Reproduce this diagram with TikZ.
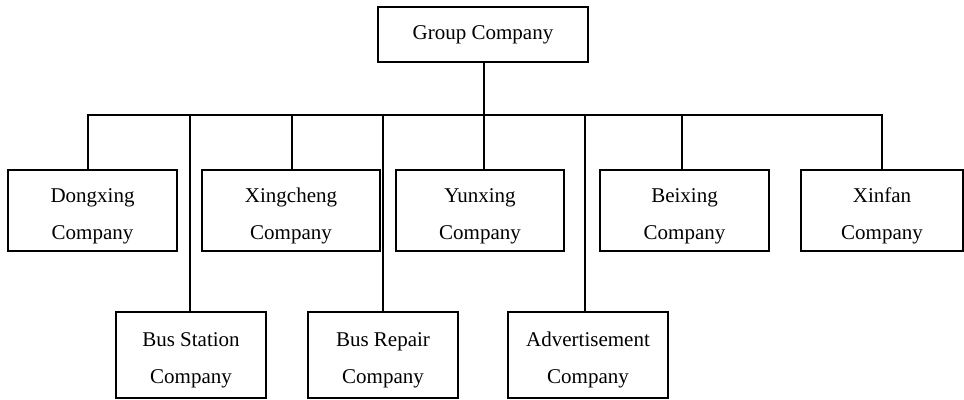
\documentclass[tikz,border=0pt]{standalone}
\usepackage{fontspec}
\setmainfont{Liberation Serif}
% taller first line pushes two-line labels slightly downward in their boxes
\newcommand{\tallfirst}{\rule{0pt}{12.5pt}}
\begin{document}
\begin{tikzpicture}[x=0.5pt,y=-0.5pt,
  box/.style={draw, line width=0.9pt, inner sep=0pt, align=center,
    font=\fontsize{10.5pt}{18.5pt}\selectfont, minimum height=40.5pt},
  low/.style={minimum height=43pt},
  link/.style={line width=0.9pt}]
\useasboundingbox (0,0) rectangle (964,400);

% parent
\node[box, minimum width=105pt, minimum height=27.5pt] (group) at (483,34.5) {Group Company};

% first row of subsidiaries
\node[box, minimum width=84.5pt] (dong) at (92.5,210.5) {\tallfirst Dongxing\\Company};
\node[box, minimum width=89pt]   (xing) at (291,210.5)  {\tallfirst Xingcheng\\Company};
\node[box, minimum width=84pt]   (yun)  at (480,210.5)  {\tallfirst Yunxing\\Company};
\node[box, minimum width=84.5pt] (bei)  at (684.5,210.5) {\tallfirst Beixing\\Company};
\node[box, minimum width=81pt]   (xin)  at (882,210.5)  {\tallfirst Xinfan\\Company};

% second row of subsidiaries
\node[box, low, minimum width=75pt] (station) at (191,355) {\tallfirst Bus Station\\Company};
\node[box, low, minimum width=75pt] (repair)  at (383,355) {\tallfirst Bus Repair\\Company};
\node[box, low, minimum width=80pt] (advert)  at (588,355) {\tallfirst Advertisement\\Company};

% distribution bus
\coordinate (b1) at (88,115);
\coordinate (b2) at (190,115);
\coordinate (b3) at (292,115);
\coordinate (b4) at (383,115);
\coordinate (b5) at (484,115);
\coordinate (b6) at (585,115);
\coordinate (b7) at (682,115);
\coordinate (b8) at (882,115);

\draw[link] (group.south -| b5) -- (b5);
\draw[link] (b1 |- dong.north) -- (b1) -- (b8) -- (b8 |- xin.north);
\draw[link] (b2) -- (b2 |- station.north);
\draw[link] (b3) -- (b3 |- xing.north);
\draw[link] (b4) -- (b4 |- repair.north);
\draw[link] (b5) -- (b5 |- yun.north);
\draw[link] (b6) -- (b6 |- advert.north);
\draw[link] (b7) -- (b7 |- bei.north);
\end{tikzpicture}
\end{document}
